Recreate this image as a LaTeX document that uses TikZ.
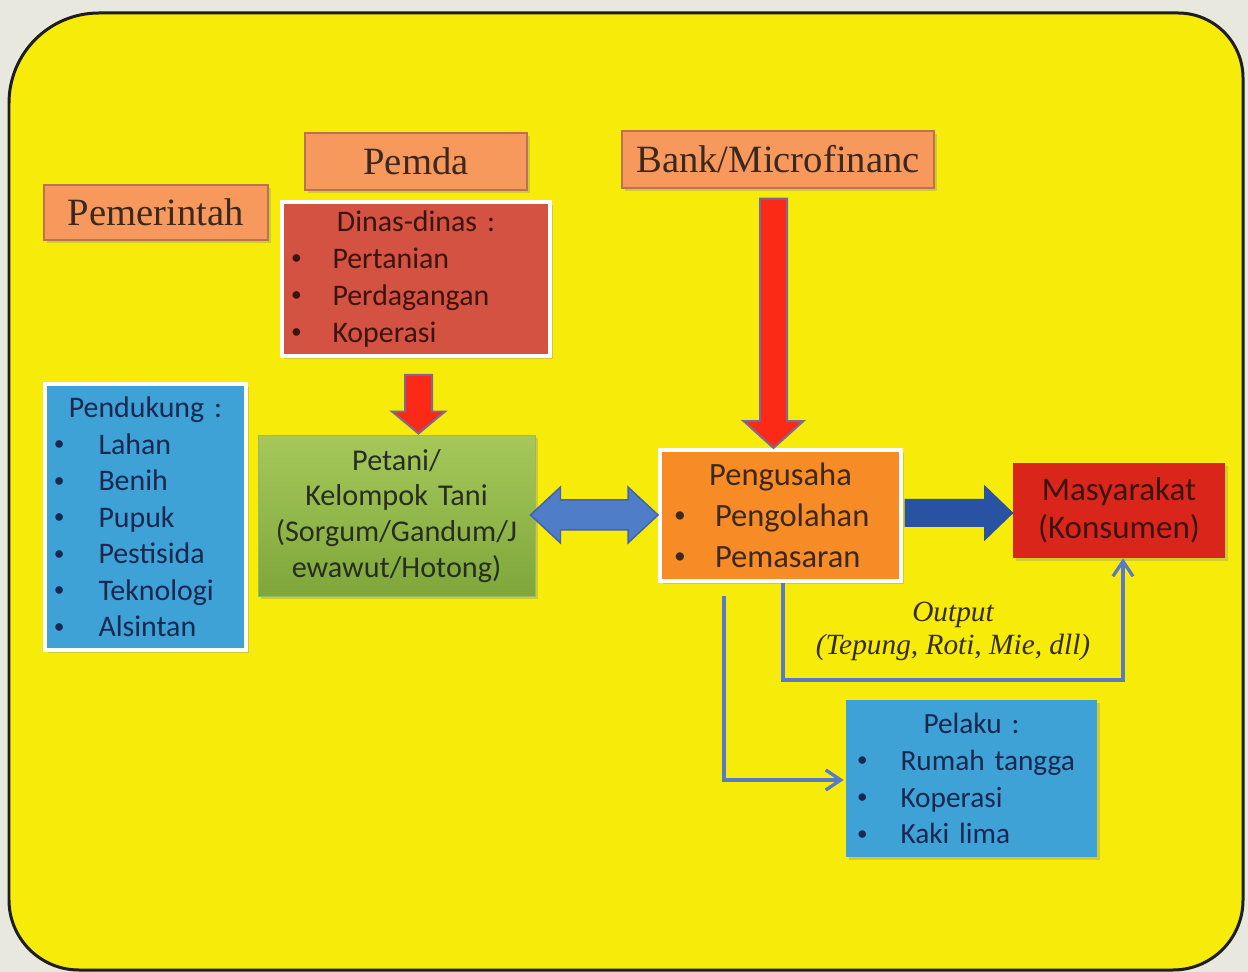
\documentclass[tikz,border=0pt]{standalone}
\usepackage{fontspec}
\setmainfont{Liberation Serif}
\newfontfamily\calibri[WordSpace=0.7]{Carlito}
\usetikzlibrary{calc,shadows,arrows.meta}

\definecolor{bgout}{RGB}{232,232,222}
\definecolor{yel}{RGB}{247,235,10}
\definecolor{frameC}{RGB}{30,30,30}
\definecolor{hdr}{RGB}{247,152,92}
\definecolor{hdrline}{RGB}{185,115,80}
\definecolor{dinasred}{RGB}{212,82,66}
\definecolor{boxblue}{RGB}{62,162,214}
\definecolor{greentop}{RGB}{166,200,90}
\definecolor{greenbot}{RGB}{126,166,58}
\definecolor{pengorange}{RGB}{247,140,38}
\definecolor{masyred}{RGB}{218,38,26}
\definecolor{arrred}{RGB}{250,42,22}
\definecolor{arrredline}{RGB}{125,105,150}
\definecolor{arrblue}{RGB}{80,125,200}
\definecolor{arrblueline}{RGB}{65,100,170}
\definecolor{arrdark}{RGB}{40,82,162}
\definecolor{flowblue}{RGB}{90,122,200}
\definecolor{inkbrown}{RGB}{60,40,30}
\definecolor{inkred}{RGB}{60,20,15}
\definecolor{inknavy}{RGB}{25,40,80}
\definecolor{inkgray}{RGB}{40,45,35}
\definecolor{inkolive}{RGB}{55,45,5}

% one pixel of the drawing grid
\newlength\pxl
\setlength\pxl{0.02cm}

% block arrow: style, tail, tip, shaft half-width, head half-width, head length
\newcommand\fatarrow[6]{%
  \coordinate (faH) at ($(#3)!#6!(#2)$);
  \draw[#1] ($(#2)!#4!90:(#3)$) -- ($(faH)!#4!90:(#3)$) -- ($(faH)!#5!90:(#3)$)
    -- (#3) -- ($(faH)!#5!-90:(#3)$) -- ($(faH)!#4!-90:(#3)$)
    -- ($(#2)!#4!-90:(#3)$) -- cycle;
}
% double block arrow: style, tip A, tip B, shaft half-width, head half-width, head length
\newcommand\fatdarrow[6]{%
  \coordinate (faA) at ($(#2)!#6!(#3)$);
  \coordinate (faB) at ($(#3)!#6!(#2)$);
  \draw[#1] (#2) -- ($(faA)!#5!90:(#3)$) -- ($(faA)!#4!90:(#3)$)
    -- ($(faB)!#4!-90:(#2)$) -- ($(faB)!#5!-90:(#2)$) -- (#3)
    -- ($(faB)!#5!90:(#2)$) -- ($(faB)!#4!90:(#2)$)
    -- ($(faA)!#4!-90:(#3)$) -- ($(faA)!#5!-90:(#3)$) -- cycle;
}
% bullet line: left gap, bullet column width, text
\newcommand\bul[3]{\hspace*{#1\pxl}\makebox[#2\pxl][l]{\raisebox{0.12em}{\scalebox{0.72}{\textbullet}}}#3}

\tikzset{
  sz/.style 2 args={minimum width=#1*0.02cm, minimum height=#2*0.02cm},
  tw/.style={text width=#1*0.02cm},
  softshadow/.style={drop shadow={shadow xshift=0.05cm, shadow yshift=-0.06cm, opacity=0.3}},
  hdrbox/.style={draw=hdrline, line width=0.6pt, fill=hdr, inner sep=0pt,
    text=inkbrown, font=\fontsize{22}{26}\selectfont, softshadow},
  listbox/.style={inner sep=0pt, align=left, softshadow},
  redarr/.style={fill=arrred, draw=arrredline, line width=0.04cm, line join=miter},
  bluearr/.style={fill=arrblue, draw=arrblueline, line width=0.03cm},
  darkarr/.style={fill=arrdark, draw=arrdark, line width=0.02cm},
  flow/.style={draw=flowblue, line width=0.065cm,
    -{Straight Barb[length=0.3cm, width=0.4cm, line width=0.065cm]}},
}

\begin{document}
\begin{tikzpicture}[x=0.02cm, y=-0.02cm]
\useasboundingbox (0,0) rectangle (1248,972);
\fill[bgout] (0,0) rectangle (1248,972);

% yellow panel
\filldraw[fill=yel, draw=frameC, line width=0.06cm]
  (9,480) [rounded corners=1.8cm] |- (620,13)
  [rounded corners=1.3cm] -| (1243,480)
  [rounded corners=1.4cm] |- (620,970) -| (9,470) -- cycle;

% headers
\node[hdrbox, sz={224}{55}] (pem) at (156,212.5) {Pemerintah};
\node[hdrbox, sz={222}{57}] (pemda) at (416,161.5) {Pemda};
\node[hdrbox, sz={312}{57}] (bank) at (778,159.5) {Bank/Microfinanc};

% Dinas
\node[listbox, sz={268}{154}, tw=268, fill=dinasred, draw=white, line width=0.08cm,
  text=inkred, font=\calibri\fontsize{17}{21}\selectfont] (dinas) at (416,279)
  {\makebox[\linewidth]{Dinas-dinas :}\\
   \bul{9}{41.5}{Pertanian}\\
   \bul{9}{41.5}{Perdagangan}\\
   \bul{9}{41.5}{Koperasi}};

% Pendukung
\node[listbox, sz={201}{266}, tw=201, fill=boxblue, draw=white, line width=0.08cm,
  text=inknavy, font=\calibri\fontsize{17}{20.8}\selectfont] (pend) at (145.5,517)
  {\makebox[\linewidth]{Pendukung :}\\
   \bul{9}{44.5}{Lahan}\\
   \bul{9}{44.5}{Benih}\\
   \bul{9}{44.5}{Pupuk}\\
   \bul{9}{44.5}{Pestisida}\\
   \bul{9}{44.5}{Teknologi}\\
   \bul{9}{44.5}{Alsintan}};

% Petani
\node[inner sep=0pt, sz={277}{161}, tw=277, align=center, top color=greentop,
  bottom color=greenbot, draw=greenbot!80!white, line width=0.02cm, softshadow,
  text=inkgray, font=\calibri\fontsize{17.2}{20.4}\selectfont] (petani) at (396.5,516)
  {Petani/\\Kelompok Tani\\(Sorgum/Gandum/J\\ewawut/Hotong)};

% Pengusaha
\node[listbox, sz={241}{131}, tw=241, fill=pengorange, draw=white, line width=0.08cm,
  text=inkbrown, font=\calibri\fontsize{18.5}{23.2}\selectfont] (peng) at (780.5,515.5)
  {\makebox[\linewidth]{Pengusaha}\\
   \bul{14}{41}{Pengolahan}\\
   \bul{14}{41}{Pemasaran}};

% Masyarakat
\node[inner sep=0pt, sz={212}{95}, tw=212, align=center, fill=masyred, softshadow,
  text=inkred, font=\calibri\fontsize{18.8}{21.5}\selectfont] (masy) at (1119,510.5)
  {Masyarakat\\(Konsumen)};

% Pelaku
\node[listbox, sz={251}{157}, tw=251, fill=boxblue,
  text=inknavy, font=\calibri\fontsize{16.7}{21}\selectfont] (pelaku) at (971.5,778.5)
  {\makebox[\linewidth]{Pelaku :}\\
   \bul{11}{43.5}{Rumah tangga}\\
   \bul{11}{43.5}{Koperasi}\\
   \bul{11}{43.5}{Kaki lima}};

% output label
\node[align=center, text=inkolive, inner sep=0pt,
  font=\itshape\fontsize{16.7}{18.7}\selectfont] (outlbl) at (953,631)
  {Output\\(Tepung, Roti, Mie, dll)};

% block arrows
\coordinate (dnT) at ($(dinas.south)+(2.5,17)$);
\coordinate (dnP) at ($(dnT |- petani.north)+(0,-1.5)$);
\fatarrow{redarr}{dnT}{dnP}{0.27cm}{0.53cm}{0.44cm}

\coordinate (bkT) at ($(bank.south)+(-4.5,10)$);
\coordinate (bkP) at (bkT |- peng.north);
\fatarrow{redarr}{bkT}{bkP}{0.27cm}{0.6cm}{0.54cm}

\coordinate (ptA) at ($(petani.east)+(-5,-1)$);
\coordinate (ptB) at (ptA -| peng.west);
\fatdarrow{bluearr}{ptA}{ptB}{0.3cm}{0.56cm}{0.6cm}

\coordinate (mkT) at ($(peng.east)+(2,-2.5)$);
\coordinate (mkP) at (mkT -| masy.west);
\fatarrow{darkarr}{mkT}{mkP}{0.27cm}{0.54cm}{0.56cm}

% thin flows
\draw[flow] ($(peng.south)+(2.5,0)$) -- ++(0,97) -| ($(masy.south)+(4,0)$);
\draw[flow] ($(peng.south)+(-56.5,13)$) |- ($(pelaku.west)+(-2,1.5)$);
\end{tikzpicture}
\end{document}
